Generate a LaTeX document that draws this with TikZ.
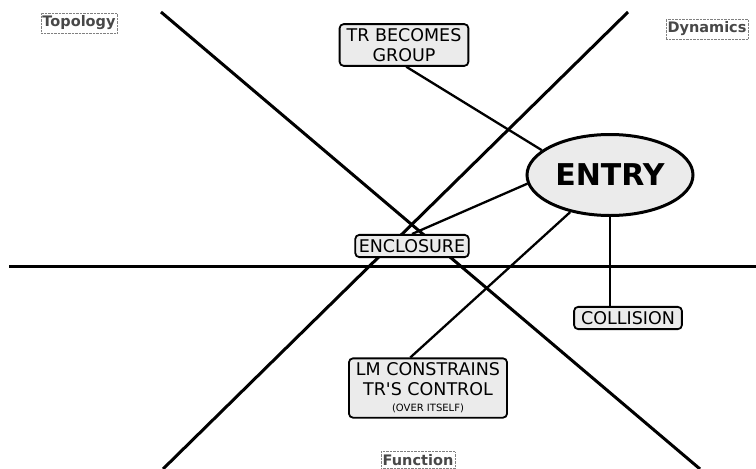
\documentclass[tikz,border=0pt]{standalone}
\usepackage{fontspec}
\setmainfont{DejaVu Sans}
\usepackage{tikz}
\usetikzlibrary{shapes.geometric}
\definecolor{boxfill}{HTML}{EBEBEB}
\definecolor{labelgray}{HTML}{484848}
\tikzset{
    axis/.style={line width=3pt, black},
    link/.style={line width=2.3pt, black},
    idea/.style={draw, rounded corners=4pt, fill=boxfill, line width=1.8pt, align=center,
        font=\fontsize{17.5}{19.5}\selectfont, inner xsep=7pt, inner ysep=4.5pt},
    hub/.style={ellipse, draw, fill=boxfill, line width=3pt, minimum width=166pt,
        minimum height=81pt, font=\fontsize{30}{32}\selectfont\bfseries},
    quadrant/.style={draw=gray, densely dotted, fill=white, text=labelgray,
        font=\fontsize{14.5}{16}\selectfont\bfseries, inner xsep=1.5pt, inner ysep=3pt}
}

\begin{document}
\begin{tikzpicture}[x=1pt, y=-1pt]
            \useasboundingbox (0,0) rectangle (756,469);

            \coordinate (h1) at (9,266);
            \coordinate (h2) at (756,266);
            \coordinate (d1) at (161,12);
            \coordinate (d2) at (700,469);
            \coordinate (d3) at (628,12);
            \coordinate (d4) at (163,469);

            \draw[axis] (h1) -- (h2);
            \draw[axis] (d1) -- (d2);
            \draw[axis] (d3) -- (d4);

            \node[hub] (entry) at (610,175) {ENTRY};
            \node[idea] (trg) at (404,45) {TR BECOMES\\GROUP};
            \node[idea, inner xsep=3.5pt] (encl) at (412,246) {ENCLOSURE};
            \node[idea] (coll) at (628,318) {COLLISION};
            \node[idea] (lmc) at (428,388) {LM CONSTRAINS\\TR\textquotesingle S CONTROL\\[-3pt]{\fontsize{10}{11}\selectfont (OVER ITSELF)}};

            \draw[link] (trg.-84) -- (entry.160);
            \draw[link] (encl.north) -- (entry.186);
            \draw[link] (lmc.120) -- (entry.223);
            \draw[link] (entry.south) -- (entry.south |- coll.north);

            \node[quadrant] (topo) at (79,23) {Topology};
            \node[quadrant] (dyn) at (707,29) {Dynamics};
            \node[quadrant] (func) at (418,460) {Function};
        \end{tikzpicture}
\end{document}
